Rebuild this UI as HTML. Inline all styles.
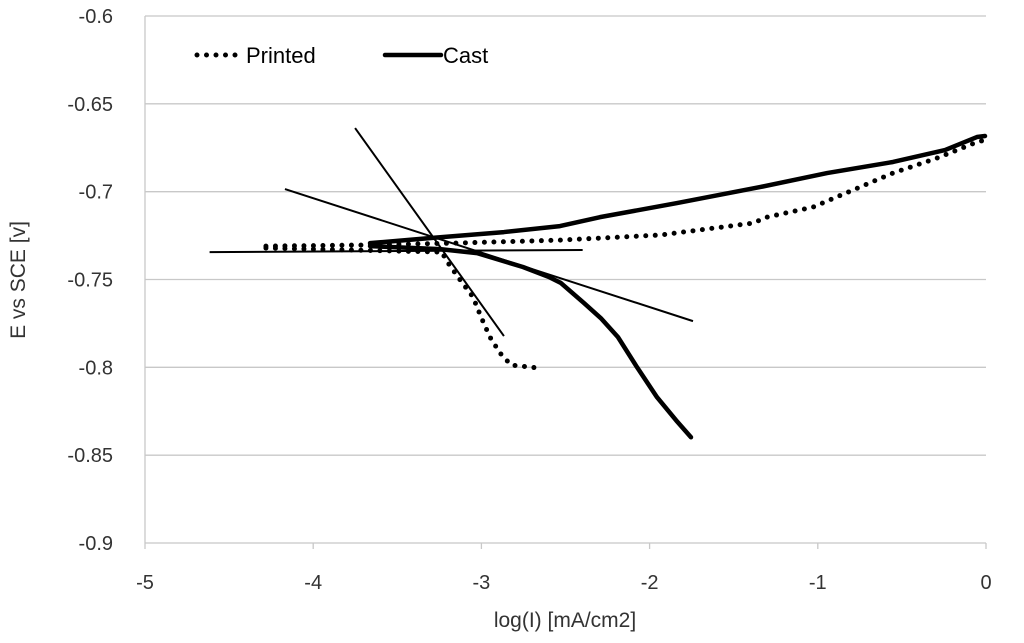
<!DOCTYPE html>
<html><head><meta charset="utf-8"><style>
body{margin:0;background:#fff;}
svg{display:block;font-family:"Liberation Sans",sans-serif;}
</style></head><body>
<svg id="chart" width="1024" height="643" viewBox="0 0 1024 643"></svg>
<script>
const xTicks=[-5,-4,-3,-2,-1,0];
const yTicks=[-0.6,-0.65,-0.7,-0.75,-0.8,-0.85,-0.9];
const yTickLabels=["-0.6","-0.65","-0.7","-0.75","-0.8","-0.85","-0.9"];
const printedCathodicX=[-4.281,-3.234,-3.210,-3.139,-3.050,-3.002,-2.949,-2.889,-2.824,-2.652];
const printedCathodicY=[-0.7321,-0.7344,-0.7390,-0.7486,-0.7600,-0.7714,-0.7828,-0.7919,-0.7987,-0.8005];
const printedAnodicX=[-4.281,-3.710,-3.163,-2.533,-1.938,-1.385,-1.302,-1.029,-0.791,-0.553,-0.291,-0.054,-0.006];
const printedAnodicY=[-0.7310,-0.7304,-0.7293,-0.7276,-0.7247,-0.7179,-0.7145,-0.7088,-0.6991,-0.6894,-0.6809,-0.6718,-0.6706];
const castAnodicX=[-3.662,-3.300,-2.866,-2.533,-2.295,-1.837,-1.344,-0.945,-0.553,-0.244,-0.054,-0.006];
const castAnodicY=[-0.7293,-0.7264,-0.7230,-0.7196,-0.7145,-0.7065,-0.6974,-0.6894,-0.6831,-0.6763,-0.6689,-0.6683];
const castCathodicX=[-3.662,-3.246,-3.026,-2.753,-2.600,-2.527,-2.390,-2.290,-2.188,-2.075,-1.956,-1.843,-1.754];
const castCathodicY=[-0.7310,-0.7327,-0.7350,-0.7429,-0.7485,-0.7520,-0.7634,-0.7720,-0.7828,-0.7999,-0.8170,-0.8301,-0.8398];
const tangentX=[[-4.616,-2.398],[-4.168,-1.742],[-3.751,-2.866]];
const tangentY=[[-0.7344,-0.7332],[-0.6985,-0.7737],[-0.6638,-0.7822]];

const NS="http://www.w3.org/2000/svg";
const svg=document.getElementById('chart');
const X0=145,X1=986,Y0=16,Y1=543;
function sx(v){return X0+(v+5)/5*(X1-X0);}
function sy(e){return Y0+(-0.6-e)/0.3*(Y1-Y0);}
function mk(tag,attrs,parent){const el=document.createElementNS(NS,tag);for(const k in attrs)el.setAttribute(k,attrs[k]);(parent||svg).appendChild(el);return el;}

yTicks.forEach((t,i)=>{
  const g=mk('line',{x1:X0,x2:X1,y1:sy(t),y2:sy(t),stroke:'#c8c8c8','stroke-width':1.3});
  
  
  const l=mk('text',{x:113,y:sy(t)+7,'text-anchor':'end','font-size':20,fill:'#333'});
  l.textContent=yTickLabels[i];
  
  
});
const ax=mk('line',{x1:X0,x2:X0,y1:Y0,y2:Y1,stroke:'#c8c8c8','stroke-width':1.3});


xTicks.forEach(t=>{
  const tk=mk('line',{x1:sx(t),x2:sx(t),y1:Y1,y2:Y1+6,stroke:'#c8c8c8','stroke-width':1.3});
  
  
  const l=mk('text',{x:sx(t),y:589,'text-anchor':'middle','font-size':20,fill:'#333'});
  l.textContent=String(t);
  
  
});
const xt=mk('text',{x:565,y:627,'text-anchor':'middle','font-size':21,fill:'#333'});
xt.textContent='log(I) [mA/cm2]';


const yt=mk('text',{x:0,y:0,'text-anchor':'middle','font-size':21,fill:'#333',transform:'translate(25,280) rotate(-90)'});
yt.textContent='E vs SCE [v]';



function pts(xs,ys){return xs.map((v,i)=>sx(v)+','+sy(ys[i])).join(' ');}
tangentX.forEach((xs,i)=>{
  const t=mk('polyline',{points:pts(xs,tangentY[i]),fill:'none',stroke:'#000','stroke-width':2});
  
  
});
const dotted={fill:'none',stroke:'#000','stroke-width':5,'stroke-linecap':'round','stroke-dasharray':'0 9.5','stroke-linejoin':'round'};
const solid={fill:'none',stroke:'#000','stroke-width':4.5,'stroke-linejoin':'round','stroke-linecap':'round'};
let p=mk('polyline',Object.assign({points:pts(castAnodicX,castAnodicY)},solid));


p=mk('polyline',Object.assign({points:pts(castCathodicX,castCathodicY)},solid));


p=mk('polyline',Object.assign({points:pts(printedAnodicX,printedAnodicY)},dotted));


p=mk('polyline',Object.assign({points:pts(printedCathodicX,printedCathodicY)},dotted));



const lg=mk('g',{});


p=mk('line',Object.assign({x1:197,x2:238,y1:55,y2:55},dotted),lg);


let lt=mk('text',{x:246,y:63,'font-size':22,fill:'#000'},lg);
lt.textContent='Printed';


p=mk('line',Object.assign({x1:385,x2:441,y1:55,y2:55},solid),lg);


lt=mk('text',{x:443,y:63,'font-size':22,fill:'#000'},lg);
lt.textContent='Cast';


</script>
</body></html>
